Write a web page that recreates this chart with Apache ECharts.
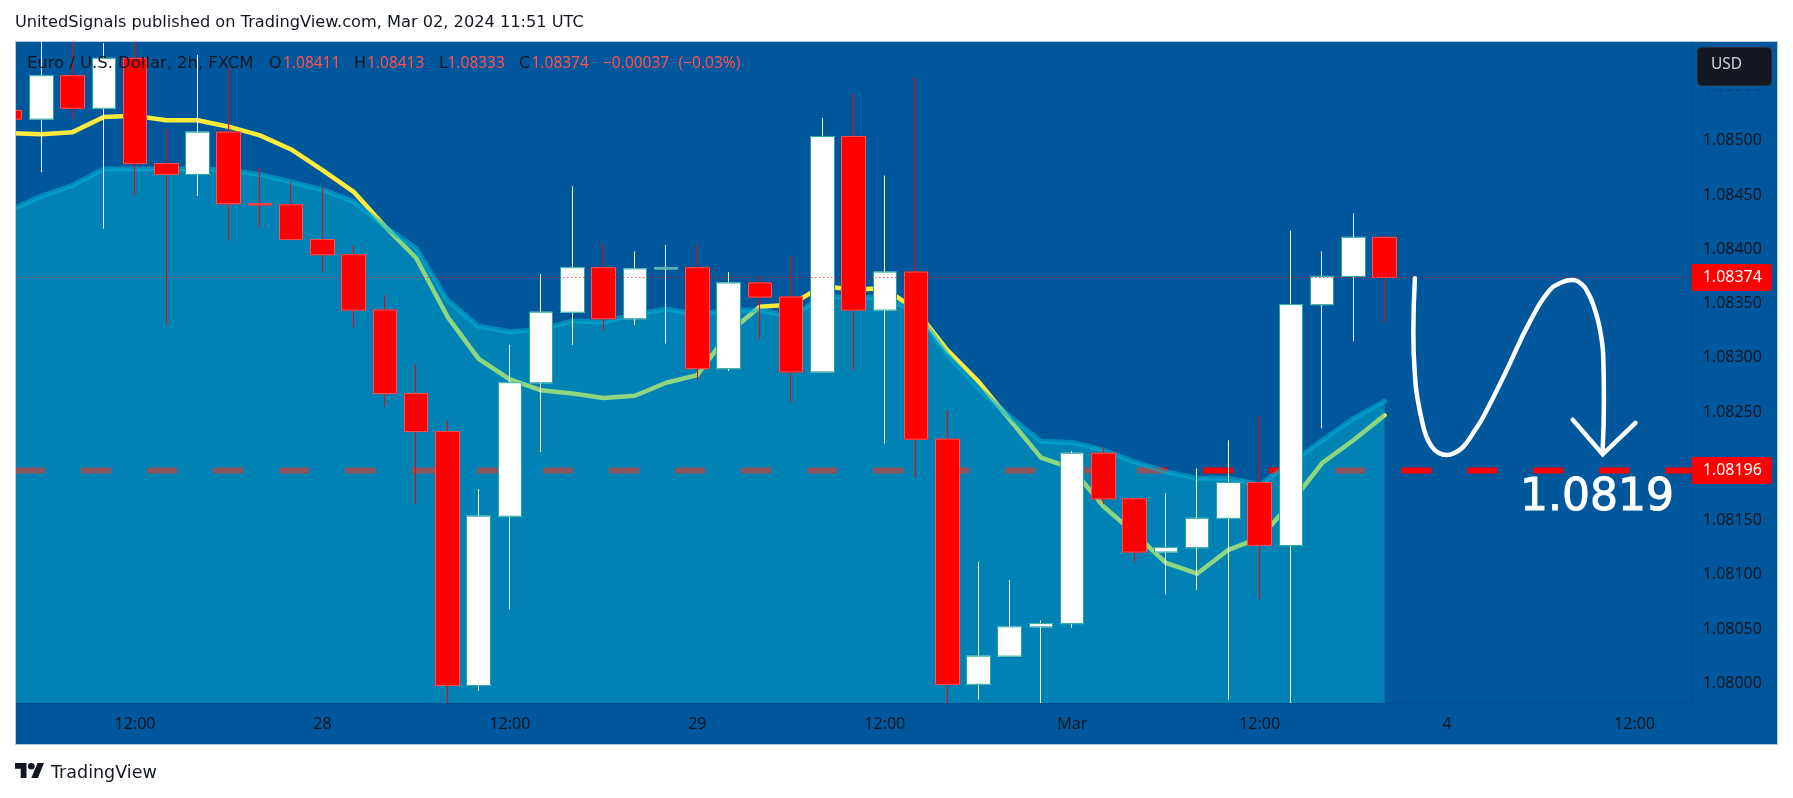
<!DOCTYPE html>
<html><head><meta charset="utf-8">
<style>html,body{margin:0;padding:0;background:#fff}#c{width:1793px;height:798px}</style>
<script src="https://cdn.jsdelivr.net/npm/echarts@6/dist/echarts.min.js"></script>
</head><body><div id="c"></div>
<script>
const opens  = [1.08528,1.08520,1.08560,1.08530,1.08576,1.08479,1.08469,1.08508,1.08442,1.08441,1.08409,1.08395,1.08344,1.08267,1.08232,1.07998,1.08154,1.08277,1.08342,1.08383,1.08336,1.08382,1.08383,1.08290,1.08369,1.08356,1.08287,1.08504,1.08344,1.08379,1.08225,1.07999,1.08025,1.08052,1.08055,1.08212,1.08170,1.08121,1.08125,1.08152,1.08185,1.08127,1.08349,1.08375,1.08411];
const closes = [1.08520,1.08560,1.08530,1.08576,1.08479,1.08469,1.08508,1.08442,1.08441,1.08409,1.08395,1.08344,1.08267,1.08232,1.07998,1.08154,1.08277,1.08342,1.08383,1.08336,1.08382,1.08383,1.08290,1.08369,1.08356,1.08287,1.08504,1.08344,1.08379,1.08225,1.07999,1.08025,1.08052,1.08055,1.08212,1.08170,1.08121,1.08125,1.08152,1.08185,1.08127,1.08349,1.08375,1.08411,1.08374];
const lows   = [1.08520,1.08471,1.08520,1.08419,1.08450,1.08330,1.08449,1.08408,1.08420,1.08409,1.08379,1.08328,1.08255,1.08165,1.07970,1.07993,1.08068,1.08213,1.08312,1.08325,1.08330,1.08313,1.08280,1.08288,1.08317,1.08259,1.08287,1.08289,1.08221,1.08190,1.07970,1.07985,1.08025,1.07970,1.08051,1.08165,1.08112,1.08082,1.08086,1.07985,1.08078,1.07970,1.08235,1.08315,1.08333];
const highs  = [1.08528,1.08620,1.08620,1.08590,1.08620,1.08511,1.08579,1.08567,1.08475,1.08462,1.08457,1.08403,1.08358,1.08294,1.08242,1.08179,1.08312,1.08377,1.08458,1.08405,1.08398,1.08404,1.08404,1.08379,1.08376,1.08394,1.08521,1.08543,1.08468,1.08558,1.08251,1.08112,1.08095,1.08058,1.08214,1.08218,1.08170,1.08175,1.08198,1.08224,1.08246,1.08417,1.08398,1.08433,1.08413];
const fastAverage = [1.08507,1.08506,1.08508,1.08522,1.08523,1.08519,1.08519,1.08513,1.08505,1.08492,1.08473,1.08453,1.08421,1.08392,1.08338,1.08299,1.08280,1.08270,1.08267,1.08263,1.08265,1.08277,1.08284,1.08323,1.08347,1.08349,1.08366,1.08363,1.08364,1.08344,1.08307,1.08278,1.08243,1.08208,1.08198,1.08163,1.08138,1.08111,1.08101,1.08123,1.08134,1.08166,1.08203,1.08224,1.08247];
const slowAverage = [1.08436,1.08449,1.08459,1.08474,1.08474,1.08474,1.08474,1.08473,1.08469,1.08462,1.08455,1.08444,1.08421,1.08401,1.08353,1.08329,1.08324,1.08326,1.08334,1.08333,1.08340,1.08345,1.08340,1.08344,1.08344,1.08338,1.08356,1.08356,1.08355,1.08343,1.08303,1.08272,1.08246,1.08223,1.08222,1.08215,1.08204,1.08195,1.08189,1.08189,1.08183,1.08203,1.08224,1.08244,1.08260];
const lastPrice = 1.08374;
const targetPrice = 1.08196;
const priceTicks = [1.08000,1.08050,1.08100,1.08150,1.08250,1.08300,1.08350,1.08400,1.08450,1.08500,1.08550];
const timeTickIndex = [4,10,16,22,28,34,40,46,52];
const timeTickLabels = ['12:00','28','12:00','29','12:00','Mar','12:00','4','12:00'];
const pathIndex = [44.97,44.92,44.99,45.08,45.19,45.32,45.51,45.72,45.99,46.25,46.52,46.84,47.16,47.91,48.65,49.29,49.61,49.99,50.31,50.52,50.70,50.84,50.95,51.00,51.02,50.98];
const pathPrice = [1.083733,1.083226,1.082765,1.082581,1.082427,1.082288,1.082181,1.082125,1.082104,1.082125,1.082181,1.082310,1.082457,1.082888,1.083333,1.083625,1.083687,1.083717,1.083677,1.083594,1.083471,1.083333,1.083164,1.083010,1.082611,1.082150];
const headIndex = [50.02,50.98,52.03];
const headPrice = [1.08243,1.08211,1.08240];
const publishLine = 'UnitedSignals published on TradingView.com, Mar 02, 2024 11:51 UTC';
const legendName = 'Euro / U.S. Dollar, 2h, FXCM';

const xMin = 0.168, xMax = 53.83, yMin = 1.079818, yMax = 1.08592;
const FONT = '"DejaVu Sans"', NUM = '"Noto Sans"';
const INK = '#131722', RED = '#ff0000', SOFT_RED = '#ff5252';
const zipIdx = (ys, xs) => ys.map((y, i) => [xs ? xs[i] : i, y]);
const clampY = v => Math.min(yMax, Math.max(yMin, v));
const wick = opens.map((o, i) => [i, o, closes[i], clampY(lows[i]), clampY(highs[i])]);
const body = opens.map((o, i) => [i, o, closes[i], Math.min(o, closes[i]), Math.max(o, closes[i])]);

const hLine = (price, z, dash, width) => ({
  type: 'line', z, data: [[xMin, price], [xMax, price]], symbol: 'none', silent: true,
  lineStyle: {color: RED, width, type: dash},
  endLabel: {
    show: true, formatter: () => price.toFixed(5), distance: 0, color: '#fff',
    backgroundColor: RED, fontFamily: NUM, fontSize: 16, width: 69, height: 27, lineHeight: 27,
    padding: [0, 0, 0, 11], align: 'left', verticalAlign: 'middle', borderRadius: [0, 3, 3, 0]
  }
});

const tx = (text, x, y, fill, size, family, extra) => ({
  type: 'text', z: 100, x, y,
  style: Object.assign({text, fill, font: `${size}px ${family}`, verticalAlign: 'middle'}, extra || {})
});

const chart = echarts.init(document.getElementById('c'), null, {renderer: 'canvas'});
chart.setOption({
  animation: false,
  backgroundColor: '#ffffff',
  grid: {left: 15.3, right: 101.3, top: 41, bottom: 95, containLabel: false},
  xAxis: {
    type: 'value', min: xMin, max: xMax, splitLine: {show: false},
    axisLine: {show: true, onZero: false, lineStyle: {color: 'rgba(19,23,34,0.10)'}},
    axisTick: {show: false},
    axisLabel: {
      customValues: timeTickIndex, margin: 13, color: INK, fontFamily: NUM, fontSize: 16,
      formatter: v => timeTickLabels[timeTickIndex.indexOf(v)] || ''
    }
  },
  yAxis: {
    type: 'value', position: 'right', min: yMin, max: yMax, scale: true, splitLine: {show: false},
    axisLine: {show: true, onZero: false, lineStyle: {color: 'rgba(19,23,34,0.10)'}},
    axisTick: {show: false},
    axisLabel: {
      customValues: priceTicks, margin: 11, color: INK, fontFamily: NUM, fontSize: 16,
      formatter: v => v.toFixed(5)
    }
  },
  series: [
    hLine(targetPrice, 1, [30, 36], 6),
    {type: 'line', z: 2, data: zipIdx(fastAverage), symbol: 'none', silent: true,
     lineStyle: {color: '#ffeb3b', width: 4.5, cap: 'round', join: 'round'}},
    {type: 'line', z: 3, data: zipIdx(slowAverage), symbol: 'none', silent: true,
     lineStyle: {color: 'rgba(0,180,215,0.55)', width: 5, cap: 'round', join: 'round'},
     areaStyle: {color: 'rgba(0,188,212,0.44)', origin: 'start', opacity: 1}},
    {type: 'candlestick', z: 4, barWidth: 24, data: wick, encode: {x: 0, y: [1, 2, 3, 4]}, silent: true,
     itemStyle: {color: '#ffffff', color0: RED, borderColor: '#ffffff', borderColor0: RED, borderWidth: 1}},
    {type: 'candlestick', z: 5, barWidth: 24, data: body, encode: {x: 0, y: [1, 2, 3, 4]}, silent: true,
     itemStyle: {color: '#ffffff', color0: RED, borderColor: '#26a69a', borderColor0: SOFT_RED, borderWidth: 1}},
    hLine(lastPrice, 6, [1, 3], 1),
    {type: 'line', z: 7, smooth: 0.5, data: zipIdx(pathPrice, pathIndex), symbol: 'none', silent: true,
     lineStyle: {color: '#ffffff', width: 4.5, cap: 'round', join: 'round'}},
    {type: 'line', z: 7, data: zipIdx(headPrice, headIndex), symbol: 'none', silent: true,
     lineStyle: {color: '#ffffff', width: 4.5, cap: 'round', join: 'miter'}}
  ],
  graphic: [
    {type: 'rect', z: -5, shape: {x: 15.5, y: 41.5, width: 1762, height: 703}, style: {fill: '#01579b'}},
    {type: 'rect', z: 50, shape: {x: 0, y: 0, width: 15, height: 798}, style: {fill: '#ffffff'}},
    {type: 'rect', z: 60, shape: {x: 15.5, y: 41.5, width: 1762, height: 703},
     style: {fill: 'none', stroke: '#b7c9dc', lineWidth: 1}},
    tx(publishLine, 15, 23, INK, 16.2, FONT),
    tx(legendName, 27, 64, INK, 16.4, FONT),
    tx('O', 269, 64, INK, 16, FONT), tx('1.08411', 283, 64, SOFT_RED, 15.5, NUM),
    tx('H', 354, 64, INK, 16, FONT), tx('1.08413', 367, 64, SOFT_RED, 15.5, NUM),
    tx('L', 439, 64, INK, 16, FONT), tx('1.08333', 447.5, 64, SOFT_RED, 15.5, NUM),
    tx('C', 519, 64, INK, 16, FONT), tx('1.08374', 531.5, 64, SOFT_RED, 15.5, NUM),
    tx('−0.00037', 603, 64, SOFT_RED, 15.5, NUM),
    tx('(−0.03%)', 678.5, 64, SOFT_RED, 15.5, NUM),
    {type: 'rect', z: 99, shape: {x: 1695, y: 45, width: 80, height: 45.5}, style: {fill: '#01579b'}},
    {type: 'rect', z: 100, shape: {x: 1697.5, y: 47.5, width: 74, height: 38, r: 4},
     style: {fill: '#131722', stroke: '#2a2e39', lineWidth: 1}},
    tx('USD', 1711, 65, '#d1d4dc', 15.5, NUM),
    tx('1.0819', 1520, 499, '#ffffff', 44, FONT, {stroke: '#ffffff', lineWidth: 1}),
    {type: 'polygon', z: 100, shape: {points: [[26.5,778],[20.7,778],[20.7,768.8],[15,768.8],[15,763],[26.5,763]]}, style: {fill: INK}},
    {type: 'polygon', z: 100, shape: {points: [[37.9,778],[31.3,778],[37.5,763],[44,763]]}, style: {fill: INK}},
    {type: 'circle', z: 100, shape: {cx: 31.3, cy: 766.3, r: 3.3}, style: {fill: INK}},
    tx('TradingView', 51, 773, INK, 17.5, FONT)
  ]
});
</script></body></html>
